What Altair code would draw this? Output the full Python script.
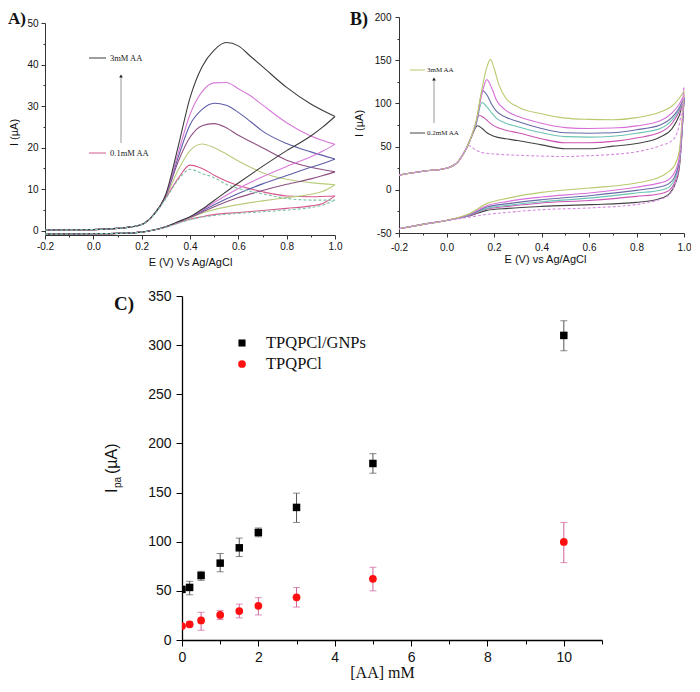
import altair as alt
import pandas as pd

# ---------------- Panel A : CVs, 0.1 - 3 mM AA ----------------
A_X_FWD = [-0.2, 0.0, 0.1, 0.15, 0.2, 0.25, 0.3, 0.35, 0.4, 0.45, 0.5, 0.55, 0.6, 0.65, 0.7, 0.8, 0.9, 1.0]
A_X_REV = [1.0, 0.95, 0.9, 0.8, 0.7, 0.6, 0.5, 0.45, 0.4, 0.35, 0.3, 0.25, 0.2, 0.1, 0.0, -0.2]

A_FWD_BLANK = [0.2, 0.3, 0.6, 0.9, 1.5, 3.8, 7.7, 12.2, 14.8, 13.8, 12.8, 11.2, 10.2, 9.5, 8.9, 7.8, 7.4, 7.4]
A_FWD_C1 = [0.2, 0.3, 0.6, 0.9, 1.5, 3.9, 8.0, 12.5, 15.8, 15.0, 13.4, 12.0, 10.9, 10.1, 9.4, 8.4, 8.2, 8.4]
A_FWD_C2 = [0.2, 0.3, 0.6, 0.9, 1.5, 3.9, 8.2, 14.5, 19.3, 20.9, 20.0, 18.5, 16.8, 15.3, 14.0, 12.4, 11.6, 11.1]
A_FWD_C3 = [0.2, 0.3, 0.6, 0.9, 1.5, 3.9, 8.4, 16.5, 22.5, 25.3, 25.8, 24.8, 23.0, 21.5, 20.0, 17.0, 15.3, 14.2]
A_FWD_C4 = [0.2, 0.3, 0.6, 0.9, 1.5, 3.9, 8.5, 17.5, 25.5, 29.2, 30.7, 30.2, 28.5, 26.3, 24.0, 21.0, 19.0, 17.3]
A_FWD_C5 = [0.2, 0.3, 0.6, 0.9, 1.5, 3.9, 8.6, 18.5, 28.0, 33.5, 35.6, 35.7, 34.2, 32.5, 30.3, 26.0, 22.8, 20.8]
A_FWD_C6 = [0.2, 0.3, 0.6, 0.9, 1.5, 3.9, 8.8, 20.0, 32.0, 39.5, 43.5, 45.3, 44.5, 42.0, 39.5, 34.5, 30.5, 27.5]

A_REV_BLANK = [7.4, 6.2, 5.6, 5.0, 4.6, 4.2, 3.7, 3.3, 2.7, 1.8, 0.9, 0.2, -0.3, -0.6, -0.7, -0.8]
A_REV_C1 = [8.4, 6.6, 6.0, 5.4, 4.9, 4.4, 3.9, 3.4, 2.8, 1.9, 0.9, 0.2, -0.3, -0.6, -0.7, -0.8]
A_REV_C2 = [11.1, 9.5, 8.8, 8.0, 7.2, 6.3, 5.1, 4.3, 3.1, 2.0, 1.0, 0.2, -0.3, -0.6, -0.7, -0.8]
A_REV_C3 = [14.2, 13.3, 12.5, 11.2, 9.7, 8.0, 5.8, 4.5, 3.2, 2.0, 1.0, 0.2, -0.3, -0.6, -0.7, -0.8]
A_REV_C4 = [17.3, 16.2, 15.3, 13.3, 11.3, 9.0, 6.3, 4.8, 3.3, 2.1, 1.0, 0.2, -0.3, -0.6, -0.7, -0.8]
A_REV_C5 = [20.8, 19.2, 17.8, 15.5, 13.0, 10.2, 6.8, 5.0, 3.3, 2.1, 1.0, 0.2, -0.3, -0.6, -0.7, -0.8]
A_REV_C6 = [27.5, 25.0, 22.8, 19.3, 15.5, 11.5, 7.3, 5.2, 3.4, 2.2, 1.0, 0.2, -0.3, -0.6, -0.7, -0.8]

A_NAMES = ["a_blank", "a1", "a2", "a3", "a4", "a5", "a6"]
A_COLORS = ["#7cc4a4", "#d6588f", "#b8cc7c", "#8e4f80", "#5e5ea8", "#d77ad8", "#3d3d3d"]

# ---------------- Panel B : CVs, 0.2 - 3 mM AA ----------------
B_X_START = [-0.2, -0.1, 0.0, 0.05, 0.08]
B_Y_START = [17, 21.5, 25, 33, 46]

B_X_BLANK = [0.097, 0.12, 0.15, 0.2, 0.3, 0.4, 0.5, 0.6, 0.7, 0.8, 0.9, 0.95, 0.98, 1.0]
B_Y_BLANK = [51, 46.5, 43, 41.5, 40, 39, 38.5, 39.5, 41, 44, 51, 57, 75, 120]
B_X_C1 = [0.1, 0.131, 0.15, 0.17, 0.2, 0.25, 0.3, 0.4, 0.5, 0.6, 0.7, 0.8, 0.9, 0.95, 0.98, 1.0]
B_Y_C1 = [58, 74.2, 71, 66, 62, 59, 57, 52, 47.5, 47.5, 50.5, 53.5, 61, 71, 86, 104]
B_X_C2 = [0.1, 0.12, 0.138, 0.16, 0.18, 0.2, 0.25, 0.3, 0.4, 0.5, 0.6, 0.7, 0.8, 0.9, 0.95, 0.98, 1.0]
B_Y_C2 = [58, 74, 86, 83, 78, 74, 69, 66, 59, 54.5, 54.5, 56, 60, 66.5, 77, 91, 105]
B_X_C3 = [0.1, 0.125, 0.149, 0.17, 0.19, 0.21, 0.25, 0.3, 0.4, 0.5, 0.6, 0.7, 0.8, 0.9, 0.95, 0.98, 1.0]
B_Y_C3 = [58, 76, 101, 96, 89, 83, 77, 73, 66, 61.5, 61, 62, 65.5, 71, 81, 93, 106]
B_X_C4 = [0.1, 0.125, 0.152, 0.17, 0.19, 0.21, 0.25, 0.3, 0.4, 0.5, 0.6, 0.7, 0.8, 0.9, 0.95, 0.98, 1.0]
B_Y_C4 = [58, 77, 114.7, 110, 99, 91, 84, 79, 71, 66, 65.5, 66, 69.5, 75, 84, 95, 107]
B_X_C5 = [0.1, 0.125, 0.15, 0.17, 0.19, 0.21, 0.25, 0.3, 0.4, 0.5, 0.6, 0.7, 0.8, 0.9, 0.95, 0.98, 1.0]
B_Y_C5 = [58, 78, 112, 127.5, 118, 104, 92, 85, 77, 72, 71, 71.5, 74, 80, 89, 99, 110]
B_X_C6 = [0.1, 0.125, 0.15, 0.17, 0.185, 0.2, 0.22, 0.25, 0.3, 0.4, 0.5, 0.6, 0.7, 0.8, 0.9, 0.95, 0.98, 1.0]
B_Y_C6 = [58, 80, 118, 142, 151, 141, 122, 106, 96, 88, 83, 81.5, 81, 83.5, 90, 97, 106, 114]

B_X_REV = [1.0, 0.98, 0.96, 0.94, 0.92, 0.9, 0.8, 0.6, 0.4, 0.26, 0.17, 0.1, 0.0, -0.1, -0.2]
B_REV_BLANK = [120, 30, 5, -5, -9, -11, -17, -21, -23, -26, -28.5, -31.5, -35.5, -40, -45]
B_REV_C1 = [104, 25, 5, -4, -8, -10, -14.6, -17.2, -19.2, -21.5, -23.8, -30, -35.5, -40, -45]
B_REV_C2 = [105, 28, 8, 0, -3, -4.5, -7.6, -12.3, -15.3, -19.2, -22.3, -29.5, -35.5, -40, -45]
B_REV_C3 = [106, 31, 12, 4, 1, -0.5, -3.7, -9.6, -13.8, -18, -21.5, -29, -35.5, -40, -45]
B_REV_C4 = [107, 34, 15, 8, 5, 3.5, -0.7, -6.8, -11.5, -16, -20, -28.5, -35.5, -40, -45]
B_REV_C5 = [110, 38, 20, 13, 9.5, 8, 3.0, -3.7, -8.4, -13.4, -18.4, -28, -35.5, -40, -45]
B_REV_C6 = [114, 45, 28, 22, 18, 15, 7.8, 2.0, -3.0, -9.6, -16, -27, -35.5, -40, -45]

B_NAMES = ["b_blank", "b1", "b2", "b3", "b4", "b5", "b6"]
B_COLORS = ["#d78be0", "#444444", "#cc55b5", "#6cc4b4", "#6a6aa8", "#d96fd9", "#b9c96e"]

# ---------------- Panel C : peak current vs [AA] ----------------
C_CONC = [0, 0.2, 0.5, 1, 1.5, 2, 3, 5, 10]
C_GNP = [51.5, 53.5, 65.6, 78.2, 93.8, 109.4, 134.9, 179.6, 309.9]
C_GNP_LO = [51.5, 46.0, 60.7, 69.4, 84.9, 105.0, 119.6, 169.7, 294.3]
C_GNP_HI = [51.5, 59.7, 69.9, 88.0, 103.7, 114.0, 149.4, 189.6, 324.8]
C_TPQ = [14.2, 15.9, 19.9, 25.5, 29.5, 34.8, 43.4, 62.3, 99.8]
C_TPQ_LO = [14.2, 13.5, 9.9, 20.9, 22.5, 25.5, 33.5, 50.0, 78.7]
C_TPQ_HI = [14.2, 18.5, 28.2, 30.1, 36.5, 43.1, 53.4, 74.0, 119.6]

# tick positions
A_TICKS_X = [-0.2, -0.1, 0.0, 0.1, 0.2, 0.3, 0.4, 0.5, 0.6, 0.7, 0.8, 0.9, 1.0]
A_TICKS_Y = [0, 5, 10, 15, 20, 25, 30, 35, 40, 45, 50]
B_TICKS_Y = [-50, -25, 0, 25, 50, 75, 100, 125, 150, 175, 200]
C_TICKS_X = [0, 1, 2, 3, 4, 5, 6, 7, 8, 9, 10, 11]
C_TICKS_Y = [0, 25, 50, 75, 100, 125, 150, 175, 200, 225, 250, 275, 300, 325, 350]

SANS = "Liberation Sans"
SERIF = "Liberation Serif"


def cv_frame(names, fwd, rev):
    rows = []
    for name, (xf, yf), (xr, yr) in zip(names, fwd, rev):
        for x, y in zip(xf, yf):
            rows.append({"curve": name, "seg": name + "_f", "x": x, "y": y})
        for x, y in zip(xr, yr):
            rows.append({"curve": name, "seg": name + "_r", "x": x, "y": y})
    return pd.DataFrame(rows)


def make_axis(values, test, label_expr, major, minor, size, color, pad, **kw):
    return alt.Axis(
        values=values,
        labelExpr=label_expr,
        tickSize={"condition": {"test": test, "value": major}, "value": minor},
        labelFont=SANS, labelFontSize=size, labelColor="#111111",
        labelOverlap=False, labelFlush=False, labelPadding=pad, grid=False,
        domainColor=color, tickColor=color, **kw)


def ann_text(text, x, y, size, font=SERIF, weight="normal", color="#222222",
             align="left", baseline="middle", angle=0):
    return alt.Chart(pd.DataFrame({"t": [text]})).mark_text(
        font=font, fontSize=size, fontWeight=weight, color=color,
        align=align, baseline=baseline, angle=angle
    ).encode(text="t:N", x=alt.value(x), y=alt.value(y))


def ann_rule(x1, x2, y1, y2, color, width=1.0, opacity=1.0):
    return alt.Chart(pd.DataFrame({"k": [0]})).mark_rule(
        color=color, strokeWidth=width, opacity=opacity
    ).encode(x=alt.value(x1), x2=alt.value(x2), y=alt.value(y1), y2=alt.value(y2))


def ann_head(x, y, color="#222222"):
    return alt.Chart(pd.DataFrame({"k": [0]})).mark_point(
        shape="triangle-up", filled=True, size=14, color=color, opacity=1
    ).encode(x=alt.value(x), y=alt.value(y))


TEST_X02 = "abs(datum.value*5 - round(datum.value*5)) < 0.001"
LABEL_X02 = ("abs(datum.value*5 - round(datum.value*5)) < 0.001 ? "
             "(datum.value < 0 ? '-' : '') + format(abs(datum.value), '.1f') : ''")

# ---------------- Chart A ----------------
W_A, H_A = 290, 218
dfA = cv_frame(
    A_NAMES,
    [(A_X_FWD, y) for y in [A_FWD_BLANK, A_FWD_C1, A_FWD_C2, A_FWD_C3, A_FWD_C4, A_FWD_C5, A_FWD_C6]],
    [(A_X_REV, y) for y in [A_REV_BLANK, A_REV_C1, A_REV_C2, A_REV_C3, A_REV_C4, A_REV_C5, A_REV_C6]],
)
xA = alt.X("x:Q", scale=alt.Scale(domain=[-0.2, 1.0], nice=False, zero=False),
           axis=make_axis(A_TICKS_X, TEST_X02, LABEL_X02, 4, 2, 10, "#333333", 2,
                          title="E (V) Vs Ag/AgCl", titleFont=SANS, titleFontSize=11,
                          titleFontWeight="normal", titleColor="#111111",
                          titleX=145, titleY=21))
yA = alt.Y("y:Q", scale=alt.Scale(domain=[-1, 50], range=[H_A, 6], nice=False, zero=False),
           axis=make_axis(A_TICKS_Y, "datum.value % 10 == 0",
                          "datum.value % 10 == 0 ? '' + datum.value : ''", 4, 2, 10, "#333333", 3,
                          title="I (\u00b5A)", titleFont=SANS, titleFontSize=11,
                          titleFontWeight="normal", titleColor="#111111",
                          titleX=-26, titleY=115))
colA = alt.Color("curve:N", scale=alt.Scale(domain=A_NAMES, range=A_COLORS), legend=None)
linesA = alt.Chart(dfA[dfA.curve != "a_blank"]).mark_line(
    interpolate="monotone", strokeWidth=1.1).encode(x=xA, y=yA, color=colA, detail="seg:N")
dashA = alt.Chart(dfA[dfA.curve == "a_blank"]).mark_line(
    interpolate="monotone", strokeWidth=1.1, strokeDash=[3, 2]).encode(
    x=xA, y=yA, color=colA, detail="seg:N")

chartA = alt.layer(
    linesA, dashA,
    ann_text(".", 0, -9, 6, font=SANS, baseline="top", color="#ffffff"),
    ann_text("A)", -37, -6, 17, weight="bold", baseline="top", color="#111111"),
    ann_rule(44, 61, 41, 41, "#3d3d3d"),
    ann_text("3mM AA", 65, 41, 8.5),
    ann_rule(76, 76, 126, 60, "#999999"),
    ann_head(76, 59),
    ann_rule(44, 61, 136, 136, "#d6588f"),
    ann_text("0.1mM AA", 65, 136, 8.5),
).properties(width=W_A, height=H_A)

# ---------------- Chart B ----------------
W_B, H_B = 285, 216
b_fwd = [
    (B_X_START + B_X_BLANK, B_Y_START + B_Y_BLANK),
    (B_X_START + B_X_C1, B_Y_START + B_Y_C1),
    (B_X_START + B_X_C2, B_Y_START + B_Y_C2),
    (B_X_START + B_X_C3, B_Y_START + B_Y_C3),
    (B_X_START + B_X_C4, B_Y_START + B_Y_C4),
    (B_X_START + B_X_C5, B_Y_START + B_Y_C5),
    (B_X_START + B_X_C6, B_Y_START + B_Y_C6),
]
b_rev = [(B_X_REV, y) for y in [B_REV_BLANK, B_REV_C1, B_REV_C2, B_REV_C3, B_REV_C4, B_REV_C5, B_REV_C6]]
dfB = cv_frame(B_NAMES, b_fwd, b_rev)
xB = alt.X("x:Q", scale=alt.Scale(domain=[-0.2, 1.0], nice=False, zero=False),
           axis=make_axis(A_TICKS_X, TEST_X02, LABEL_X02, 4, 2, 10, "#333333", 5,
                          title="E (V) vs Ag/AgCl", titleFont=SANS, titleFontSize=11,
                          titleFontWeight="normal", titleColor="#111111",
                          titleX=146, titleY=20))
yB = alt.Y("y:Q", scale=alt.Scale(domain=[-50, 200], nice=False, zero=False),
           axis=make_axis(B_TICKS_Y, "datum.value % 50 == 0",
                          "datum.value % 50 == 0 ? '' + datum.value : ''", 4, 2, 10, "#333333", 4,
                          title="I (\u00b5A)", titleFont=SANS, titleFontSize=11,
                          titleFontWeight="normal", titleColor="#111111",
                          titleX=-35, titleY=106))
colB = alt.Color("curve:N", scale=alt.Scale(domain=B_NAMES, range=B_COLORS), legend=None)
linesB = alt.Chart(dfB[dfB.curve != "b_blank"]).mark_line(
    interpolate="monotone", strokeWidth=1.1).encode(x=xB, y=yB, color=colB, detail="seg:N")
dashB = alt.Chart(dfB[dfB.curve == "b_blank"]).mark_line(
    interpolate="monotone", strokeWidth=1.1, strokeDash=[3, 2]).encode(
    x=xB, y=yB, color=colB, detail="seg:N")

chartB = alt.layer(
    linesB, dashB,
    ann_text(".", 2, -9, 6, font=SANS, baseline="top", color="#ffffff"),
    ann_text("B)", -49, -6, 18, weight="bold", baseline="top", color="#111111"),
    ann_rule(11, 26, 53, 53, "#b9c96e"),
    ann_text("3mM AA", 28, 53, 7),
    ann_rule(35, 35, 106, 63, "#999999"),
    ann_head(35, 62),
    ann_rule(11, 26, 116, 116, "#444444"),
    ann_text("0.2mM AA", 28, 116, 7),
).properties(width=W_B, height=H_B)

# ---------------- Chart C ----------------
W_C, H_C = 420, 344
dfC = pd.DataFrame({
    "conc": C_CONC + C_CONC,
    "val": C_GNP + C_TPQ,
    "lo": C_GNP_LO + C_TPQ_LO,
    "hi": C_GNP_HI + C_TPQ_HI,
    "series": ["TPQPCl/GNPs"] * len(C_CONC) + ["TPQPCl"] * len(C_CONC),
})
xC = alt.X("conc:Q", scale=alt.Scale(domain=[0, 11], nice=False, zero=False),
           axis=make_axis(C_TICKS_X, "datum.value % 2 == 0",
                          "datum.value % 2 == 0 ? '' + datum.value : ''", 6, 4, 14, "#000000", 4,
                          title="[AA] mM", titleFont=SERIF, titleFontSize=16,
                          titleFontWeight="normal", titleColor="#111111",
                          titleX=200, titleY=24, domainWidth=1.3))
yC = alt.Y("val:Q", scale=alt.Scale(domain=[0, 350], nice=False, zero=False),
           axis=make_axis(C_TICKS_Y, "datum.value % 50 == 0",
                          "datum.value % 50 == 0 ? '' + datum.value : ''", 6, 3, 14, "#000000", 5,
                          title=None, domainWidth=1.3))
gnp = dfC[dfC.series == "TPQPCl/GNPs"]
tpq = dfC[dfC.series == "TPQPCl"]


def err_layers(df, color):
    base = alt.Chart(df)
    rule = base.mark_rule(color=color, strokeWidth=1, clip=True).encode(
        x=xC, y=alt.Y("lo:Q"), y2="hi:Q")
    cap_lo = base.mark_tick(color=color, orient="horizontal", size=7, thickness=1, clip=True).encode(
        x=xC, y=alt.Y("lo:Q"))
    cap_hi = base.mark_tick(color=color, orient="horizontal", size=7, thickness=1, clip=True).encode(
        x=xC, y=alt.Y("hi:Q"))
    return [rule, cap_lo, cap_hi]


pts_gnp = alt.Chart(gnp).mark_square(color="#000000", size=56, opacity=1, clip=True).encode(x=xC, y=yC)
pts_tpq = alt.Chart(tpq).mark_circle(color="#ff1010", size=60, opacity=1, clip=True).encode(x=xC, y=yC)

leg_sq = alt.Chart(pd.DataFrame({"k": [0]})).mark_square(color="#000000", size=50, opacity=1).encode(
    x=alt.value(60), y=alt.value(47))
leg_ci = alt.Chart(pd.DataFrame({"k": [0]})).mark_circle(color="#ff1010", size=60, opacity=1).encode(
    x=alt.value(60), y=alt.value(68))

chartC = alt.layer(
    *err_layers(gnp, "#555555"),
    *err_layers(tpq, "#d0609a"),
    pts_gnp, pts_tpq,
    leg_sq, leg_ci,
    ann_text("TPQPCl/GNPs", 84, 47, 16.5, color="#111111"),
    ann_text("TPQPCl", 84, 68, 16.5, color="#111111"),
    ann_text("C)", -68, -1, 19, weight="bold", baseline="top", color="#111111"),
    ann_text("I", -70, 197, 16, font=SANS, angle=270, color="#111111"),
    ann_text("pa", -64, 192, 10, font=SANS, angle=270, color="#111111"),
    ann_text("(\u00b5A)", -70, 178, 16, font=SANS, angle=270, color="#111111"),
    ann_text(".", -100, 172, 10, font=SANS, color="#ffffff"),
).properties(width=W_C, height=H_C)

# invisible spacer that shifts panel C to the right
spacer = ann_rule(2, 3, 2, 3, "#ffffff", opacity=0).properties(width=37, height=20)

top = alt.hconcat(chartA, chartB, spacing=8).resolve_scale(color="independent")
bottom = alt.hconcat(spacer, chartC, spacing=0)
chart = alt.vconcat(top, bottom, spacing=22).resolve_scale(color="independent").properties(
    padding=0, background="white"
).configure_view(stroke=None)

chart.save("out.html", embed_options={"renderer": "svg", "actions": False})
